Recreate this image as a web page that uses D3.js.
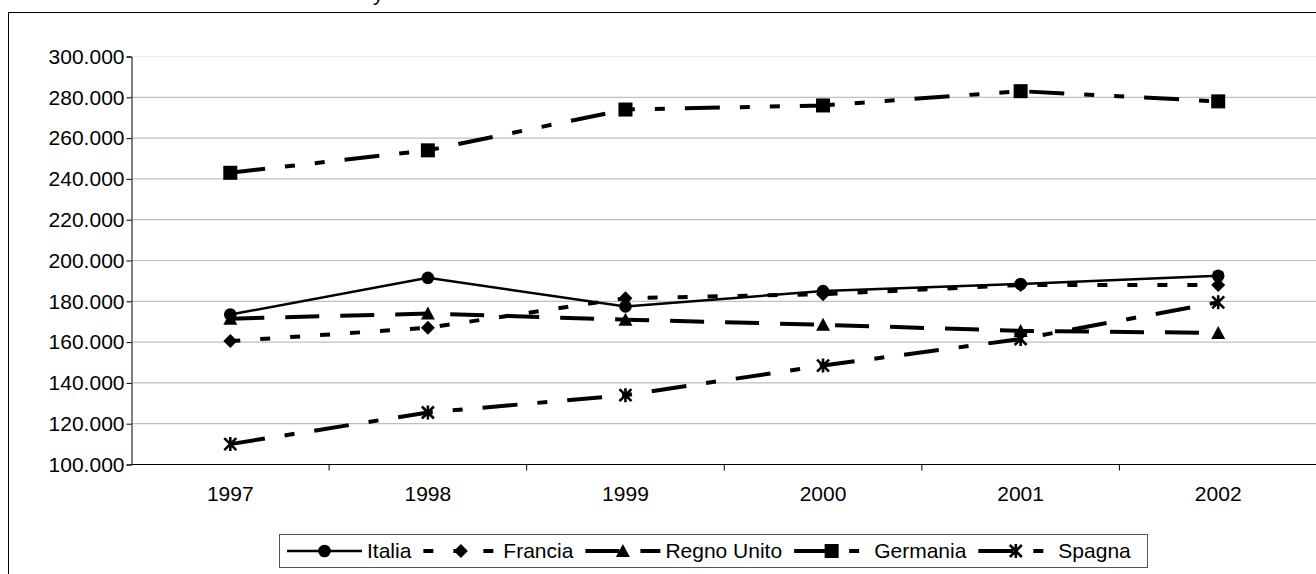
<!DOCTYPE html>
<html>
<head>
<meta charset="utf-8">
<script src="https://cdn.jsdelivr.net/npm/d3@7/dist/d3.min.js"></script>
<style>
  html, body { margin: 0; padding: 0; background: #fff; }
  svg { display: block; font-family: "Liberation Sans", Arial, sans-serif; }
</style>
</head>
<body>
<svg id="chart" width="1316" height="574"></svg>
<script>
// Categories, series and axis ticks
const years = ["1997", "1998", "1999", "2000", "2001", "2002"];
const italia     = [173500, 191500, 177500, 185000, 188500, 192500];
const francia    = [160500, 167000, 181500, 183500, 188000, 188000];
const regnoUnito = [171500, 174000, 171000, 168500, 165500, 164500];
const germania   = [243000, 254000, 274000, 276000, 283000, 278000];
const spagna     = [110000, 125500, 134000, 148500, 161500, 179500];
const yTicks = [100000, 120000, 140000, 160000, 180000, 200000, 220000, 240000, 260000, 280000, 300000];

const seriesNames = ["Italia", "Francia", "Regno Unito", "Germania", "Spagna"];
const seriesValues = [italia, francia, regnoUnito, germania, spagna];

// Per-series line styling
const styles = {
  "Italia":      { width: 2.5, dash: null,                 marker: "circle" },
  "Francia":     { width: 4,   dash: "10,20",              marker: "diamond" },
  "Regno Unito": { width: 4,   dash: "34,21",              marker: "triangle" },
  "Germania":    { width: 4,   dash: "35,20,10,20,10,20",  marker: "square" },
  "Spagna":      { width: 4,   dash: "35,20,10,20",        marker: "star" }
};

const it = d3.formatLocale({ decimal: ",", thousands: ".", grouping: [3], currency: ["€", ""] });
const fmt = it.format(",.0f");

const svg = d3.select("#chart");
const FONT = 21;

// Outer chart frame
svg.append("rect")
  .attr("x", 8.5).attr("y", 12.5)
  .attr("width", 1330).attr("height", 600)
  .attr("fill", "none").attr("stroke", "#000").attr("stroke-width", 1);

// Title fragment above the frame
svg.append("text")
  .attr("x", 373).attr("y", 1)
  .attr("font-size", FONT).attr("fill", "#000")
  .text("y");

const x = d3.scaleBand().domain(years).range([131.5, 1317]).padding(0);
const y = d3.scaleLinear().domain([100000, 300000]).range([464.5, 56.5]);
const cx = d => x(d) + x.bandwidth() / 2;

// Horizontal gridlines
svg.append("g").selectAll("line")
  .data(yTicks.filter(v => v > 100000))
  .join("line")
  .attr("x1", x.range()[0]).attr("x2", x.range()[1])
  .attr("y1", d => y(d)).attr("y2", d => y(d))
  .attr("stroke", d => d === 300000 ? "#ececec" : "#c0c0c0")
  .attr("stroke-width", 1.2);

// Y axis
const yAxis = svg.append("g")
  .attr("transform", `translate(${x.range()[0]},0)`)
  .call(d3.axisLeft(y).tickValues(yTicks).tickSize(5).tickPadding(2).tickFormat(fmt));
yAxis.select(".domain").attr("stroke", "#000");
yAxis.selectAll(".tick line").attr("stroke", "#000");
yAxis.selectAll(".tick text")
  .attr("font-size", FONT).attr("fill", "#000")
  .attr("font-family", "Liberation Sans, Arial, sans-serif");

// X axis: baseline, ticks between categories, centred labels
const xg = svg.append("g");
xg.append("line")
  .attr("x1", x.range()[0]).attr("x2", x.range()[1])
  .attr("y1", y(100000)).attr("y2", y(100000))
  .attr("stroke", "#000");
const edges = years.map(d => x(d)).concat([x.range()[1]]);
xg.selectAll("line.tick")
  .data(edges.slice(1, -1))
  .join("line")
  .attr("class", "tick")
  .attr("x1", d => d).attr("x2", d => d)
  .attr("y1", y(100000)).attr("y2", y(100000) + 6)
  .attr("stroke", "#000");
xg.selectAll("text")
  .data(years)
  .join("text")
  .attr("x", d => cx(d)).attr("y", y(100000) + 36)
  .attr("text-anchor", "middle")
  .attr("font-size", FONT).attr("fill", "#000")
  .text(d => d);

// Marker drawing
function drawMarker(g, type) {
  if (type === "circle") {
    g.append("circle").attr("r", 6.3).attr("fill", "#000");
  } else if (type === "diamond") {
    g.append("path").attr("d", "M0,-7L7,0L0,7L-7,0Z").attr("fill", "#000");
  } else if (type === "triangle") {
    g.append("path").attr("d", "M0,-7L7,6L-7,6Z").attr("fill", "#000");
  } else if (type === "square") {
    g.append("rect").attr("x", -7).attr("y", -7).attr("width", 14).attr("height", 14).attr("fill", "#000");
  } else if (type === "star") {
    g.append("path").attr("d", "M-6,-6L6,6M-6,6L6,-6M0,-7L0,7")
      .attr("stroke", "#000").attr("stroke-width", 2.6).attr("fill", "none");
  }
}

const line = d3.line().x((d, i) => cx(years[i])).y(d => y(d));

seriesNames.forEach((name, si) => {
  const st = styles[name];
  const vals = seriesValues[si];
  const g = svg.append("g");
  g.append("path")
    .attr("d", line(vals))
    .attr("fill", "none")
    .attr("stroke", "#000")
    .attr("stroke-width", st.width)
    .attr("stroke-dasharray", st.dash);
  vals.forEach((v, i) => {
    const m = g.append("g").attr("transform", `translate(${cx(years[i])},${y(v)})`);
    drawMarker(m, st.marker);
  });
});

// Legend
const legend = svg.append("g");
legend.append("rect")
  .attr("x", 279.5).attr("y", 534.5)
  .attr("width", 868).attr("height", 33)
  .attr("fill", "#fff").attr("stroke", "#555").attr("stroke-width", 1);
let lx = 287;
const ly = 551;
seriesNames.forEach(name => {
  const st = styles[name];
  const item = legend.append("g");
  item.append("line")
    .attr("x1", lx).attr("x2", lx + 75)
    .attr("y1", ly).attr("y2", ly)
    .attr("stroke", "#000").attr("stroke-width", st.width)
    .attr("stroke-dasharray", st.dash);
  drawMarker(item.append("g").attr("transform", `translate(${lx + 37.5},${ly})`), st.marker);
  const t = item.append("text")
    .attr("x", lx + 80).attr("y", ly)
    .attr("dy", "0.35em")
    .attr("font-size", FONT).attr("fill", "#000")
    .text(name);
  lx += 80 + t.node().getComputedTextLength() + 12;
});
</script>
</body>
</html>
